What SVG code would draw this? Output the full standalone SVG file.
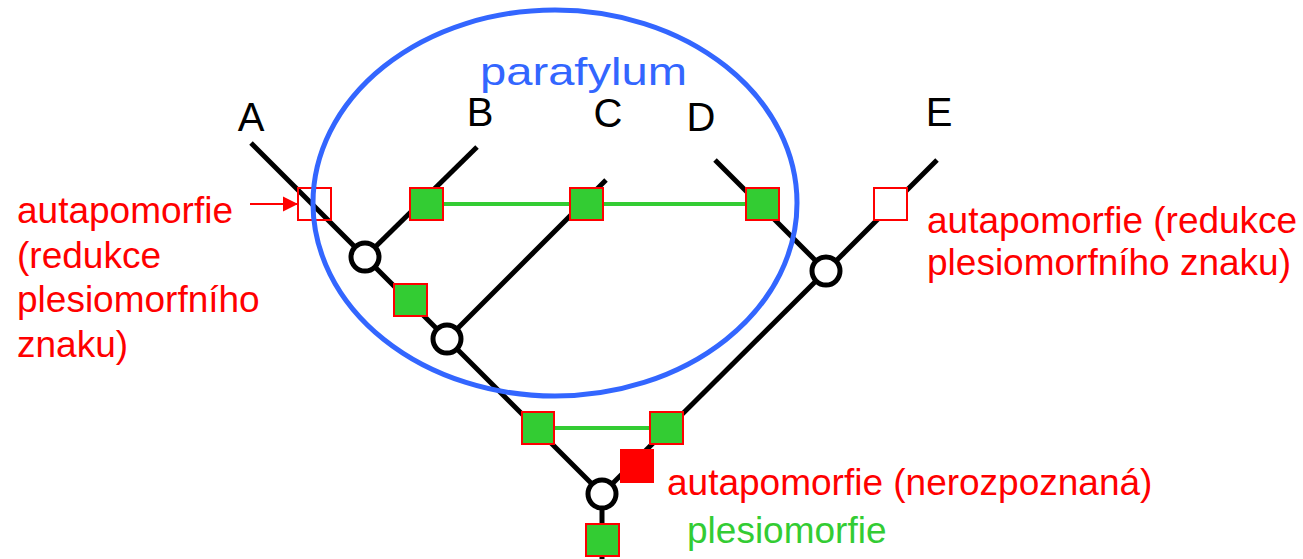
<svg xmlns="http://www.w3.org/2000/svg" width="1303" height="559" viewBox="0 0 1303 559">
<style>
.br{stroke:#000;stroke-width:5;fill:none;stroke-linecap:butt}
.gl{stroke:#33CC33;stroke-width:4}
.nd{fill:#fff;stroke:#000;stroke-width:5}
.gs{fill:#33CC33;stroke:#FF0000;stroke-width:2}
.os{stroke:#FF0000;stroke-width:2}
.lab{font-family:"Liberation Sans",Arial,sans-serif;font-size:40px;fill:#000}
.rt{font-family:"Liberation Sans",Arial,sans-serif;font-size:37px;fill:#FF0000}
.gt{font-family:"Liberation Sans",Arial,sans-serif;font-size:37px;fill:#33CC33}
</style>
<defs>
<marker id="ah" markerWidth="16" markerHeight="16" refX="15" refY="8" orient="auto" markerUnits="userSpaceOnUse">
<path d="M0,0.5 L15,8 L0,15.5 Z" fill="#FF0000"/>
</marker>
</defs>
<rect width="1303" height="559" fill="#fff"/>
<g id="connectors">
<line class="br" x1="251" y1="143" x2="602" y2="494"/>
<line class="br" x1="365" y1="257" x2="477" y2="147"/>
<line class="br" x1="447" y1="339" x2="606" y2="180"/>
<line class="br" x1="715" y1="160" x2="826" y2="271"/>
<line class="br" x1="826" y1="271" x2="937" y2="160"/>
<line class="br" x1="602" y1="494" x2="826" y2="271"/>
<line class="br" x1="602" y1="494" x2="602" y2="559"/>
<line class="gl" x1="443" y1="204" x2="746" y2="204"/>
<line class="gl" x1="554" y1="428" x2="650" y2="428"/>
<line x1="250" y1="204" x2="298" y2="204" stroke="#FF0000" stroke-width="2" marker-end="url(#ah)"/>
</g>
<g id="sq-a"><rect class="os" x="298" y="188" width="33" height="32" fill="none"/></g>
<g id="parafylum">
<ellipse cx="555" cy="203" rx="242" ry="193" fill="none" stroke="#3366FF" stroke-width="5"/>
<text x="480" y="85" font-family="Liberation Sans, Arial, sans-serif" font-size="39" fill="#3366FF" textLength="207" lengthAdjust="spacingAndGlyphs">parafylum</text>
</g>
<g id="sq-b"><rect class="gs" x="410" y="188" width="33" height="32"/></g>
<g id="sq-c"><rect class="gs" x="570" y="188" width="33" height="32"/></g>
<g id="sq-d"><rect class="gs" x="746" y="188" width="33" height="32"/></g>
<g id="sq-e"><rect class="os" x="874" y="188" width="33" height="32" fill="#fff"/></g>
<g id="sq-bc"><rect class="gs" x="394" y="284" width="33" height="32"/></g>
<g id="sq-l"><rect class="gs" x="522" y="412" width="32" height="32"/></g>
<g id="sq-r"><rect class="gs" x="650" y="412" width="33" height="32"/></g>
<g id="sq-red"><rect x="620" y="449" width="34" height="34" fill="#FF0000"/></g>
<g id="sq-root"><rect class="gs" x="586" y="524" width="33" height="32"/></g>
<g id="node-1"><circle class="nd" cx="365" cy="257" r="14"/></g>
<g id="node-2"><circle class="nd" cx="447" cy="339" r="14"/></g>
<g id="node-3"><circle class="nd" cx="826" cy="271" r="14"/></g>
<g id="node-root"><circle class="nd" cx="602" cy="494" r="14"/></g>
<g id="labels">
<text class="lab" x="251" y="131" text-anchor="middle">A</text>
<text class="lab" x="480" y="126" text-anchor="middle">B</text>
<text class="lab" x="608" y="127" text-anchor="middle">C</text>
<text class="lab" x="701" y="131" text-anchor="middle">D</text>
<text class="lab" x="939" y="126" text-anchor="middle">E</text>
</g>
<g id="legend">
<text class="rt" x="17" y="223">autapomorfie</text>
<text class="rt" x="17" y="268">(redukce</text>
<text class="rt" x="17" y="312">plesiomorfního</text>
<text class="rt" x="17" y="357">znaku)</text>
<text class="rt" x="927" y="233">autapomorfie (redukce</text>
<text class="rt" x="927" y="275">plesiomorfního znaku)</text>
<text class="rt" x="667" y="495">autapomorfie (nerozpoznaná)</text>
<text class="gt" x="687" y="543">plesiomorfie</text>
</g>
</svg>
